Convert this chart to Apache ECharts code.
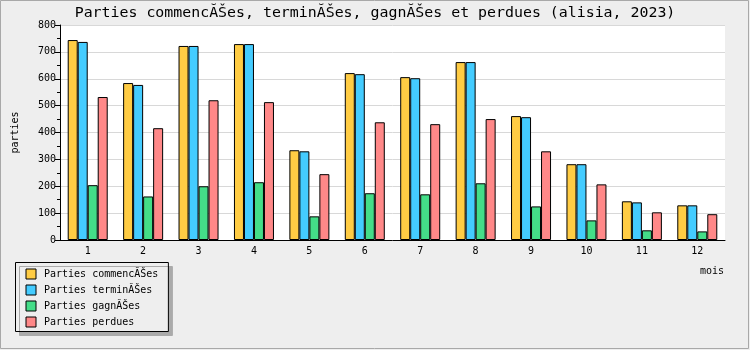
<!DOCTYPE html>
<html>
<head>
<meta charset="utf-8">
<script src="https://cdn.jsdelivr.net/npm/echarts@6/dist/echarts.min.js"></script>
<style>
html,body{margin:0;padding:0;background:#EEEEEE;}
#chart{width:750px;height:350px;}
</style>
</head>
<body>
<div id="chart"></div>
<script>
const titleText = 'Parties commencĂŠes, terminĂŠes, gagnĂŠes et perdues (alisia, 2023)';
const months = ['1','2','3','4','5','6','7','8','9','10','11','12'];
const seriesNames = ['Parties commencĂŠes', 'Parties terminĂŠes', 'Parties gagnĂŠes', 'Parties perdues'];
const commencees = [744, 584, 722, 729, 334, 621, 606, 662, 461, 282, 144, 129];
const terminees  = [737, 577, 722, 729, 330, 617, 602, 662, 457, 282, 140, 129];
const gagnees    = [204, 162, 200, 215, 88, 174, 170, 211, 125, 73, 36, 32];
const perdues    = [532, 416, 520, 513, 245, 438, 431, 450, 330, 207, 103, 96];
const colors = ['#FFCC44', '#44CCFF', '#44DD88', '#FF8888'];
const yName = 'parties';
const xName = 'mois';

const FONT = 'DejaVu Sans Mono';
const chart = echarts.init(document.getElementById('chart'));
const allData = [commencees, terminees, gagnees, perdues];

chart.setOption({
  backgroundColor: '#EEEEEE',
  animation: false,
  title: {
    text: titleText,
    left: 'center',
    top: 1,
    textStyle: {fontFamily: FONT, fontSize: 14.9, fontWeight: 'normal', color: '#000'}
  },
  legend: {
    orient: 'vertical',
    left: 15.5, top: 262.5,
    padding: [6, 10, 4, 10],
    itemWidth: 10, itemHeight: 10, itemGap: 5,
    icon: 'rect',
    backgroundColor: '#EEEEEE',
    borderColor: '#000', borderWidth: 1,
    shadowColor: '#AAAAAA', shadowOffsetX: 4, shadowOffsetY: 4, shadowBlur: 0,
    itemStyle: {borderColor: '#000', borderWidth: 1},
    textStyle: {fontFamily: FONT, fontSize: 10, color: '#000', padding: [0, 0, 0, 3], lineHeight: 10},
    data: seriesNames
  },
  grid: {
    left: 60, right: 25, top: 25, bottom: 110,
    show: true, backgroundColor: '#FFFFFF', borderWidth: 0
  },
  xAxis: {
    type: 'category',
    data: months,
    boundaryGap: true,
    axisLine: {lineStyle: {color: '#000', width: 1}},
    axisTick: {inside: true, length: 5, lineStyle: {color: '#000'}},
    axisLabel: {fontFamily: FONT, fontSize: 10, color: '#000', margin: 6},
    splitLine: {show: false}
  },
  yAxis: {
    type: 'value',
    min: 0, max: 800, interval: 100,
    name: yName,
    nameLocation: 'middle',
    nameGap: 40,
    nameRotate: 90,
    nameTextStyle: {fontFamily: FONT, fontSize: 10, color: '#000'},
    axisLine: {show: true, lineStyle: {color: '#000', width: 1}},
    axisTick: {show: true, inside: false, length: 5, lineStyle: {color: '#000'}},
    minorTick: {show: true, splitNumber: 2, length: 3, lineStyle: {color: '#000'}},
    axisLabel: {fontFamily: FONT, fontSize: 10, color: '#000', margin: 4},
    splitLine: {show: true, lineStyle: {color: '#D8D8D8', width: 1}}
  },
  graphic: [
    {type: 'rect', shape: {x: 0.5, y: 0.5, width: 748, height: 348}, style: {fill: 'none', stroke: '#A8A8A8', lineWidth: 1}, silent: true, z: 100},
    {type: 'text', x: 724, y: 271, style: {text: xName, fontFamily: FONT, fontSize: 10, fill: '#000', align: 'right', verticalAlign: 'middle'}}
  ],
  series: seriesNames.map((n, i) => ({
    name: n,
    type: 'bar',
    data: allData[i],
    barWidth: 10,
    barGap: '0%',
    itemStyle: {color: colors[i], borderColor: '#000', borderWidth: 1}
  }))
});
</script>
</body>
</html>
